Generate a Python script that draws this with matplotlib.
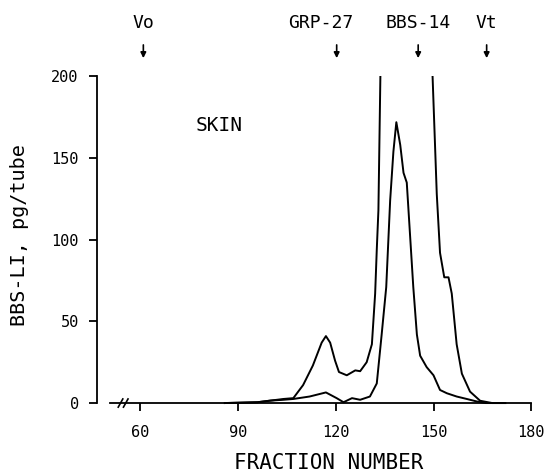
import matplotlib
matplotlib.use("Agg")
import matplotlib.pyplot as plt

# ---- data ----
x_outer = [86, 96, 100, 104, 107, 110, 113, 115.7, 117, 118.3, 119.8, 121, 123.4, 126, 127.5,
           129.5, 131.1, 132.1, 132.6, 133.1, 134, 149, 151, 152, 153.3, 154.6, 155.6, 157.1,
           158.7, 161.2, 164.3, 168, 172]
y_outer = [0, 0.5, 1.5, 2.5, 3, 11, 23, 37, 41, 37, 26, 19, 17, 20, 19.5,
           25, 36, 67, 94, 118, 240, 240, 128, 92, 77, 77, 67, 36,
           18, 7, 1.4, 0, 0]

x_inner = [86, 96, 100, 104, 107, 112, 117, 120.3, 122.4, 125, 127.5, 130.5, 132.6, 134.1,
           135.5, 136.7, 137.7, 138.6, 139.8, 140.8, 141.8, 142.8, 143.8, 144.9, 145.9,
           147.9, 150, 152, 154.1, 157.1, 160.2, 163.2, 166, 172]
y_inner = [0, 0.5, 1.5, 2, 2.5, 4, 6.5, 3, 0.5, 3, 2, 4, 12, 42,
           71, 124, 154, 172, 158, 141, 135, 103, 71, 42, 29,
           22, 17, 8, 6, 4, 2.5, 1, 0, 0]

marker_labels = ["Vo", "GRP-27", "BBS-14", "Vt"]
marker_pos = [61, 120.3, 145.3, 166.3]
label_offsets = [0, -5, 0, 0]

x_ticks = [60, 90, 120, 150, 180]
y_ticks = [0, 50, 100, 150, 200]

font = "DejaVu Sans Mono"

fig = plt.figure(figsize=(5.48, 4.76), dpi=100)
ax = fig.add_axes([0.1765, 0.1464, 0.799, 0.693])

ax.plot(x_outer, y_outer, color="black", lw=1.4)
ax.plot(x_inner, y_inner, color="black", lw=1.4)

ax.set_xlim(46.7, 181)
ax.set_ylim(-2, 200)

for s in ["top", "right"]:
    ax.spines[s].set_visible(False)
ax.spines["bottom"].set_position(("data", 0))
ax.spines["bottom"].set_bounds(50.8, 180)
ax.spines["left"].set_bounds(0, 200)
ax.spines["left"].set_linewidth(1.3)
ax.spines["bottom"].set_linewidth(1.3)

ax.set_xticks(x_ticks)
ax.set_yticks(y_ticks)
ax.set_xticklabels([str(v) for v in x_ticks], family=font, fontsize=11)
ax.set_yticklabels([str(v) for v in y_ticks], family=font, fontsize=11)
ax.tick_params(axis="x", direction="out", length=6, width=1.3, pad=10)
ax.tick_params(axis="y", direction="out", length=6, width=1.3, pad=7)

# axis break marks
for bx in [54.0, 55.6]:
    ax.plot([bx - 0.7, bx + 0.7], [-2.5, 2.5], color="black", lw=1.2, clip_on=False)

fig.text(0.600, 0.006, "FRACTION NUMBER", family=font, fontsize=15,
         ha="center", va="bottom")
fig.text(0.035, 0.506, "BBS-LI, pg/tube", family=font, fontsize=14.5,
         ha="center", va="center", rotation=90)

ax.text(84.2, 170, "SKIN", family=font, fontsize=14, ha="center", va="center")

for lab, xp, off in zip(marker_labels, marker_pos, label_offsets):
    ax.text(xp + off, 233, lab, family=font, fontsize=13, ha="center", va="center",
            clip_on=False)
    ax.annotate("", xy=(xp, 209.5), xytext=(xp, 221),
                arrowprops=dict(arrowstyle="-|>", lw=1.2, color="black", mutation_scale=8),
                annotation_clip=False)

fig.savefig("out.png", dpi=100)
